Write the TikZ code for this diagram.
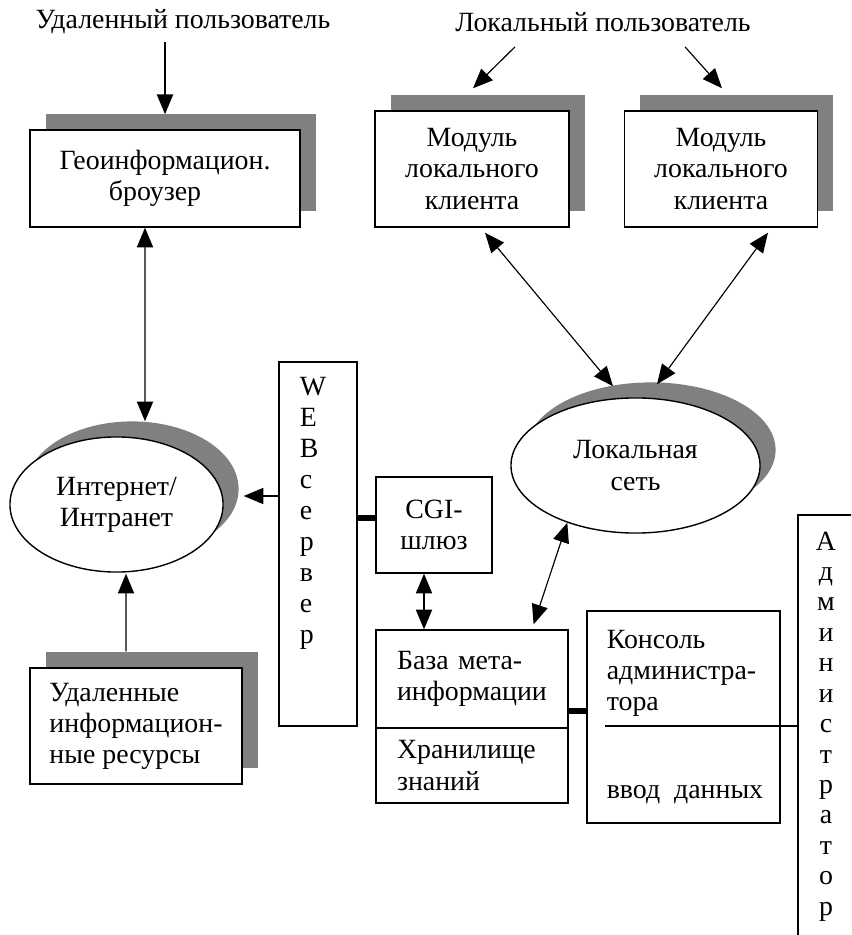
\documentclass[tikz,border=0pt]{standalone}
\usepackage{fontspec}
\setmainfont{Liberation Serif}
\usetikzlibrary{arrows.meta,shapes.geometric,shadows}

\begin{document}
\begin{tikzpicture}[x=0.4308pt,y=-0.4308pt,
  font=\fontsize{12}{13.4}\selectfont,
  box/.style={draw,line width=0.6pt,fill=white,rectangle,inner sep=0pt},
  shadowed/.style={general shadow={shadow xshift=6.7pt,shadow yshift=6.7pt,fill=shadowgray}},
  net/.style={draw,line width=0.6pt,fill=white,ellipse,inner sep=0pt,align=center,minimum height=58.2pt},
  arr/.style={line width=0.5pt,-{Triangle[length=8.5pt,width=7pt]}},
  dbl/.style={line width=0.5pt,{Triangle[length=8.5pt,width=7pt]}-{Triangle[length=8.5pt,width=7pt]}},
  bar/.style={line width=2.6pt}]
\definecolor{shadowgray}{HTML}{808080}
\clip (0,0) rectangle (851,935);

% users
\node (remuser) at (183,22) {Удаленный пользователь};
\node (locuser) at (603,22) {Локальный пользователь};

% shadowed boxes and networks
\node[box,shadowed,minimum width=116.3pt,minimum height=41.8pt,align=center] (geo) at (165,178.5) {Геоинформацион.\\броузер\hspace*{8.6pt}};
\node[box,shadowed,minimum width=83.6pt,minimum height=50pt,align=center] (mod1) at (472,169) {Модуль\\локального\\клиента};
\node[box,shadowed,minimum width=83pt,minimum height=50pt,align=center] (mod2) at (721,169) {Модуль\\локального\\клиента};
\node[net,shadowed,minimum width=91.8pt] (inet) at (116.5,504.5) {Интернет/\\Интранет};
\node[net,shadowed,minimum width=107.3pt] (lnet) at (635.5,465.5) {Локальная\\сеть};
\node[box,shadowed,minimum width=91.3pt,minimum height=50pt,align=left] (res) at (136,726) {Удаленные\\информацион-\\ные ресурсы};

% server side
\node[box,minimum width=33.6pt,minimum height=156.8pt] (web) at (318,544) {};
\node[anchor=north west,inner sep=0pt,align=left] (webtxt) at ([shift={(21,15)}]web.north west) {W\\E\\B\\с\\е\\р\\в\\е\\р};
\node[box,minimum width=50pt,minimum height=41.4pt,align=center] (cgi) at (434,525) {CGI-\\шлюз};
\node[box,minimum height=42.2pt,text width=64.6pt,inner xsep=9pt,align=left] (baza) at (472,679) {База мета-\\информации};
\node[box,minimum height=32.3pt,text width=64.6pt,inner xsep=9pt,align=left] (store) at (472,765.5) {Хранилище\\знаний};

% administrator
\node[box,minimum width=83.1pt,minimum height=91.3pt] (console) at (683.5,717) {};
\node[anchor=north west,inner sep=0pt,align=left] (contxt) at ([shift={(20,19)}]console.north west) {Консоль\\администра-\\тора};
\node[anchor=base west,inner sep=0pt] (conin) at ([shift={(20,-25)}]console.south west) {ввод\ \ данных};
\node[box,minimum width=35.3pt,minimum height=191.7pt] (admin) at (839,737.5) {};
\node[anchor=north,inner sep=0pt,align=center,font=\fontsize{12}{13.1}\selectfont] (admtxt) at ([shift={(-13,17)}]admin.north) {А\\д\\м\\и\\н\\и\\с\\т\\р\\а\\т\\о\\р};

% connectors
\draw[arr,shorten >=6.5pt] (geo.north |- remuser.south) -- (geo.north);
\draw[arr] ([shift={(-88,7)}]locuser.south) -- ([shift={(1,-22)}]mod1.north);
\draw[arr] ([shift={(82,7)}]locuser.south) -- ([shift={(1,-22)}]mod2.north);
\draw[dbl] ([shift={(-20,0)}]geo.south) -- ([shift={(28.5,-15)}]inet.north);
\draw[arr] ([shift={(-10,-16)}]res.north) -- ([shift={(9.5,1)}]inet.south);
\draw[arr] ([shift={(0,-48)}]web.west) -- ([shift={(20,-8.5)}]inet.east);
\coordinate (cgibar) at ([shift={(0,-7)}]cgi.west);
\draw[bar] (cgibar) -- (cgibar -| web.east);
\coordinate (cgilink) at ([shift={(-10,0)}]cgi.south);
\draw[dbl] (cgilink) -- (cgilink |- baza.north);
\draw[dbl] (lnet.220) -- ([shift={(-35,-5)}]baza.north east);
\draw[dbl] ([shift={(13,5)}]mod1.south) -- ([shift={(-22.5,-11)}]lnet.north);
\draw[dbl] ([shift={(47,5)}]mod2.south) -- ([shift={(21.5,-13)}]lnet.north);
\coordinate (bazabar) at ([shift={(0,32)}]baza.east);
\draw[bar] (bazabar) -- (bazabar -| console.west);
\coordinate (cdiv) at ([shift={(19,9)}]console.west);
\draw[line width=0.6pt] (cdiv) -- (cdiv -| admin.west);
\end{tikzpicture}
\end{document}
